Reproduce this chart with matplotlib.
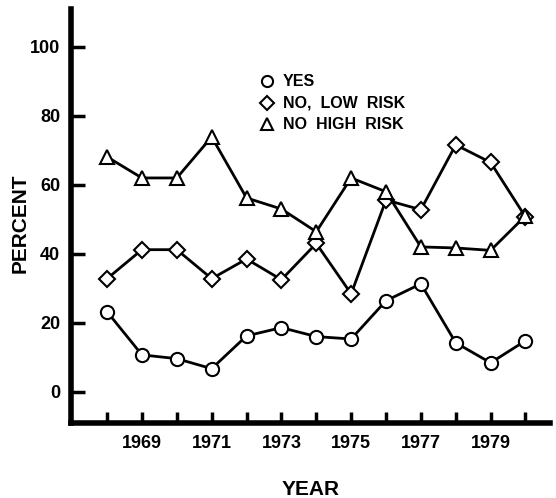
import numpy as np
import matplotlib
matplotlib.use('Agg')
import matplotlib.pyplot as plt

# values
years = [1968, 1969, 1970, 1971, 1972, 1973, 1974, 1975, 1976, 1977, 1978, 1979, 1980]
yes = [23.2, 10.7, 9.6, 6.7, 16.2, 18.6, 16.0, 15.3, 26.4, 31.3, 14.2, 8.4, 14.8]
no_low = [32.8, 41.2, 41.2, 32.8, 38.5, 32.5, 43.0, 28.4, 55.6, 52.8, 71.6, 66.5, 50.7]
no_high = [68.1, 62.0, 62.0, 73.9, 56.2, 53.0, 46.4, 62.0, 58.0, 42.0, 41.7, 41.0, 51.0]
yticks = [0, 20, 40, 60, 80, 100]
xlabels = [1969, 1971, 1973, 1975, 1977, 1979]

plt.rcParams['font.family'] = ['Liberation Sans', 'DejaVu Sans']
plt.rcParams['font.weight'] = 'bold'

fig = plt.figure(figsize=(5.56, 4.98), dpi=100)
ax = fig.add_axes([0.128, 0.151, 0.861, 0.831])

mk = dict(color='black', lw=2, mfc='white', mec='black', mew=1.5, ms=9.5)
ax.plot(years, yes, marker='o', **mk)
ax.plot(years, no_low, marker='D', **dict(mk, ms=8.5))
ax.plot(years, no_high, marker='^', **mk)

ax.set_xlim(1966.97, 1980.7)
ax.set_ylim(-9, 111)

for s in ['top', 'right']:
    ax.spines[s].set_visible(False)
for s in ['left', 'bottom']:
    ax.spines[s].set_linewidth(4)

ax.set_yticks(yticks)
ax.set_yticklabels([str(v) for v in yticks], fontsize=13, fontweight='bold')
ax.set_xticks(years)
ax.set_xticklabels([str(y) if y in xlabels else '' for y in years], fontsize=13, fontweight='bold')
ax.tick_params(axis='y', direction='in', length=10, width=2.5, pad=8)
ax.tick_params(axis='x', direction='in', length=8, width=2.5, pad=9)

ax.set_ylabel('PERCENT', fontsize=15, fontweight='bold')
ax.yaxis.set_label_coords(-0.086, 0.483)
ax.set_xlabel('YEAR', fontsize=15, fontweight='bold', labelpad=20)

# legend drawn by hand, like the original
leg = [('o', 'YES'), ('D', 'NO,  LOW  RISK'), ('^', 'NO  HIGH  RISK')]
for i, (m, lab) in enumerate(leg):
    yv = 90 - i * 6.2
    ax.plot([1972.6], [yv], marker=m, ls='none', mfc='white', mec='black', mew=1.5,
            ms=8 if m != 'D' else 7)
    ax.text(1973.05, yv, lab, fontsize=11.5, fontweight='bold', va='center', ha='left')

fig.savefig('out.png', dpi=100)
